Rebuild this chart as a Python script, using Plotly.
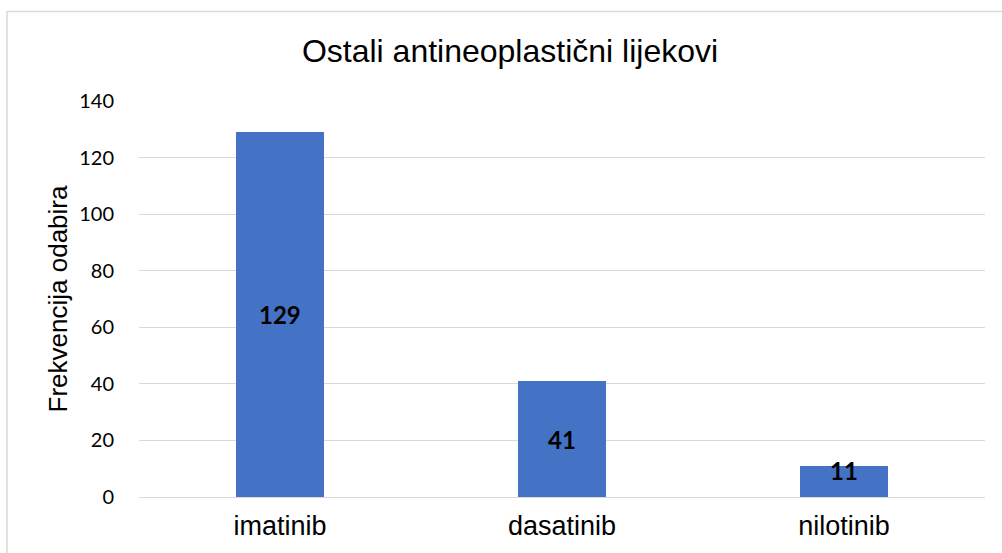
import plotly.graph_objects as go

categories = ["imatinib", "dasatinib", "nilotinib"]
values = [129, 41, 11]
label_shifts = [0, 0, 11]
y_ticks = [0, 20, 40, 60, 80, 100, 120, 140]

L, R, T, B = 139, 17, 101, 54
W, H = 1002, 553
pw = W - L - R
ph = H - T - B

fig = go.Figure()
fig.add_trace(go.Bar(
    x=categories, y=values,
    marker=dict(color="#4472C4", line=dict(width=0)),
    hoverinfo="x+y",
))

for c, v, s in zip(categories, values, label_shifts):
    fig.add_annotation(
        x=c, y=v / 2, text=f"<b>{v}</b>", showarrow=False,
        yshift=s, font=dict(family="Lato, Open Sans, sans-serif", size=24, color="#000000"),
    )

fig.add_shape(
    type="rect", xref="paper", yref="paper",
    x0=(7 - L) / pw, x1=1.2, y0=-0.5, y1=(H - B - 11) / ph,
    line=dict(color="#d9d9d9", width=1.5), layer="below",
)

fig.update_layout(
    width=W, height=H,
    margin=dict(l=L, r=R, t=T, b=B, pad=0),
    paper_bgcolor="white", plot_bgcolor="white",
    bargap=0.688,
    showlegend=False,
    title=dict(
        text="Ostali antineoplastični lijekovi",
        x=(510 - L) / pw, xanchor="center", xref="paper", y=1 - 51 / H, yanchor="middle",
        font=dict(family="Liberation Sans, Arial, sans-serif", size=32, color="#000000"),
    ),
    xaxis=dict(
        showgrid=False, showline=False, zeroline=False,
        tickfont=dict(family="Liberation Sans, Arial, sans-serif", size=27, color="#000000"),
        ticks="outside", ticklen=5, tickcolor="rgba(0,0,0,0)",
    ),
    yaxis=dict(
        range=[0, 140], tickvals=y_ticks,
        showgrid=True, gridcolor="#d9d9d9", gridwidth=1.3,
        zeroline=True, zerolinecolor="#d9d9d9", zerolinewidth=1.3,
        showline=False, ticks="outside", ticklen=20, tickcolor="rgba(0,0,0,0)",
        tickfont=dict(family="Lato, Open Sans, sans-serif", size=20, color="#000000"),
        title=dict(text="Frekvencija odabira", standoff=4,
                   font=dict(family="Liberation Sans, Arial, sans-serif", size=26, color="#000000")),
    ),
)

fig.write_html("out.html", config={"displayModeBar": False},
               post_script="document.body.style.margin='0px';")
